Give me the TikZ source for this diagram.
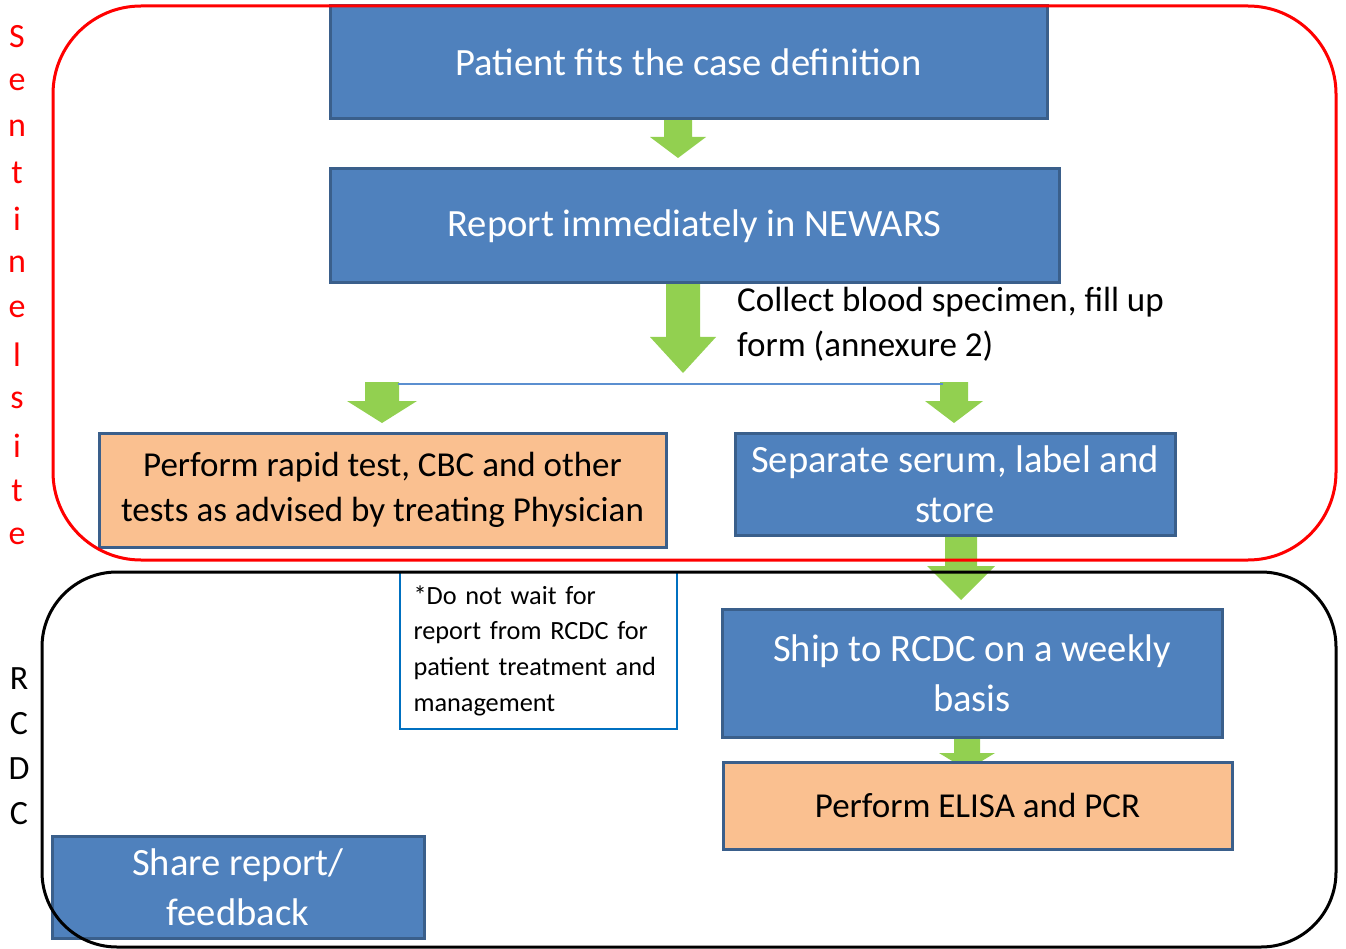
\documentclass[tikz,border=0pt]{standalone}
\usepackage{fontspec}
\setmainfont{Carlito}
\definecolor{boxblue}{HTML}{4F81BD}
\definecolor{boxedge}{HTML}{3A5F8B}
\definecolor{boxorange}{HTML}{FAC090}
\definecolor{arrowgreen}{HTML}{92D050}
\definecolor{notecol}{HTML}{0070C0}
\definecolor{linkblue}{HTML}{5B8FD0}
\newcommand\greenarrow[6]{\fill[arrowgreen] (#1-#5,#2) -- (#1+#5,#2) -- (#1+#5,#3) -- (#1+#6,#3) -- (#1,#4) -- (#1-#6,#3) -- (#1-#5,#3) -- cycle;}
\begin{document}
\begin{tikzpicture}[x=1pt,y=-1pt,
  bluebox/.style={draw=boxedge,fill=boxblue,line width=3pt,text=white,align=center,inner sep=0pt},
  orangebox/.style={draw=boxedge,fill=boxorange,line width=3pt,text=black,align=center,inner sep=0pt},
  big/.style={font=\fontsize{35}{45}\selectfont},
  bigger/.style={font=\fontsize{38.6}{50}\selectfont},
  lettr/.style={font=\fontsize{34}{40}\selectfont,inner sep=0pt}]
\useasboundingbox (0,0) rectangle (1346,949);

% block arrows
\greenarrow{678}{118}{137}{158}{14}{28}
\greenarrow{683}{283}{337}{373}{17}{33}
\greenarrow{382}{382}{401}{423}{17}{35}
\greenarrow{954}{382}{401}{423}{14}{29}
\greenarrow{961}{535}{566}{600}{16}{34}
\greenarrow{967}{737}{753}{770}{13}{28}
\coordinate (lA) at (398,384);
\coordinate (lB) at (943,384);
\draw[linkblue,line width=1.5pt] (lA) -- (lB);

% boxes
\node[bluebox,bigger,minimum width=717,minimum height=113] (fit) at (688.5,62.5) {Patient fits the case definition};
\node[bluebox,bigger,minimum width=729,minimum height=114] (rep) at (694.5,226) {Report immediately in NEWARS};
\node[big,anchor=west,align=left,inner sep=0pt] (col) at (737,324) {Collect blood specimen, fill up\\form (annexure 2)};
\node[orangebox,big,minimum width=567,minimum height=114] (rap) at (382.5,490) {Perform rapid test, CBC and other\\tests as advised by treating Physician};
\node[bluebox,bigger,minimum width=440,minimum height=102] (sep) at (955,484) {Separate serum, label and\\store};
\node[bluebox,bigger,minimum width=500,minimum height=128] (ship) at (972,673) {Ship to RCDC on a weekly\\basis};
\node[orangebox,big,minimum width=509,minimum height=87] (eli) at (977.5,805.5) {Perform ELISA and PCR};
\node[bluebox,bigger,minimum width=372,minimum height=102] (share) at (238,887) {Share report/\\feedback};
\node[draw=notecol,line width=1.5pt,minimum width=277,minimum height=157,text width=250,align=left,inner sep=0pt,font=\fontsize{26.3}{35.7}\selectfont] (note) at (538.5,650.5) {*Do not wait for\\report from RCDC for\\patient treatment and\\management};

% regions
\draw[red,line width=3pt,rounded corners=88] (53,6) rectangle (1336,560);
\draw[black,line width=3pt,rounded corners=75] (42,572) rectangle (1336,947);

% side labels
\foreach \c [count=\i from 0] in {S,e,n,t,i,n,e,l,s,i,t,e}
  \node[lettr,text=red] (s\i) at (17,37+45.4*\i) {\c};
\foreach \c [count=\i from 0] in {R,C,D,C}
  \node[lettr] (r\i) at (19,679+45*\i) {\c};
\end{tikzpicture}
\end{document}
